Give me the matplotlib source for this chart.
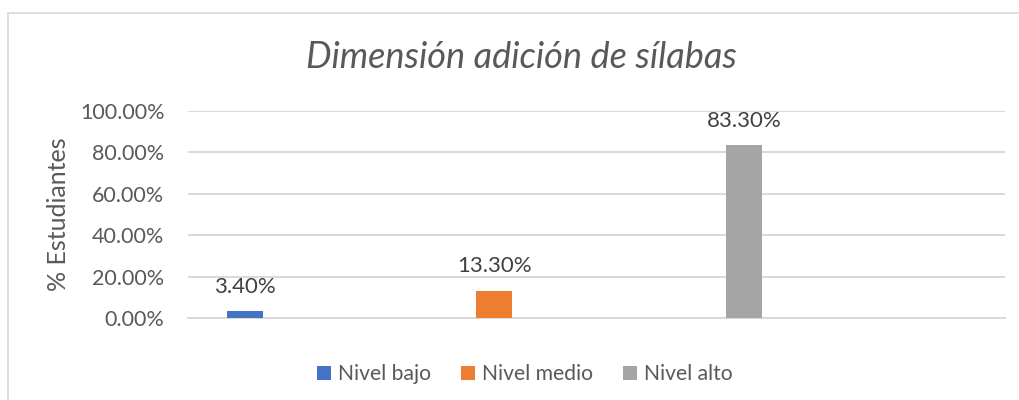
import matplotlib
matplotlib.use("Agg")
import matplotlib.pyplot as plt
from matplotlib.patches import Patch
from matplotlib.lines import Line2D

series = ["Nivel bajo", "Nivel medio", "Nivel alto"]
values = [3.40, 13.30, 83.30]
colors = ["#4472C4", "#ED7D31", "#A5A5A5"]
yticks = [0, 20, 40, 60, 80, 100]
title = "Dimensión adición de sílabas"
ylabel = "% Estudiantes"

W, H = 1019, 400
fig = plt.figure(figsize=(W / 100, H / 100), dpi=100)
plt.rcParams['font.family'] = ['Lato', 'DejaVu Sans']
txt = "#595959"
grid = "#D9D9D9"

L, R, T, B = 188, 1005, 110.8, 318.3
ax = fig.add_axes([L / W, 1 - B / H, (R - L) / W, (B - T) / H])

x = list(range(len(series)))
bw = 0.144
bars = ax.bar(x, values, width=bw, color=colors, zorder=3)
for xi, v in zip(x, values):
    ax.annotate(f"{v:.2f}%", (xi, v), xytext=(0, 17.5), textcoords="offset points",
                ha="center", va="center", fontsize=16, color="#404040")

ax.set_xlim(-0.228, 3.046)
ax.set_ylim(0, 100)
ax.set_yticks(yticks)
ax.set_yticklabels([f"{t:.2f}%" for t in yticks], fontsize=15.5, color=txt)
ax.set_xticks([])
ax.tick_params(axis="y", length=0, pad=17)
ax.grid(axis="y", color=grid, lw=1.4, zorder=0)
ax.set_axisbelow(True)
for s in ["top", "right", "left"]:
    ax.spines[s].set_visible(False)
ax.spines["bottom"].set_color(grid)
ax.spines["bottom"].set_linewidth(1.4)

ax.set_ylabel(ylabel, fontsize=18, color=txt)
ax.yaxis.set_label_coords((70 - L) / (R - L), 0.5)

fig.text(521 / W, 1 - 57 / H, title, ha="center", va="center", fontsize=26,
         style="italic", color=txt)

handles = [Patch(facecolor=c, edgecolor="none") for c in colors]
fig.legend(handles, series, loc="center", bbox_to_anchor=(525 / W, 1 - 374 / H),
           ncol=3, frameon=False, fontsize=15.2, labelcolor=txt,
           handlelength=0.65, handleheight=0.65, handletextpad=0.35, columnspacing=1.4)

# chart border (left and top visible)
fig.add_artist(Line2D([7.5 / W, 7.5 / W], [0, 1 - 12.5 / H], transform=fig.transFigure,
                      color="#D9D9D9", lw=1.2))
fig.add_artist(Line2D([7.5 / W, 1], [1 - 12.5 / H, 1 - 12.5 / H], transform=fig.transFigure,
                      color="#D9D9D9", lw=1.2))

fig.savefig("out.png", dpi=100)
